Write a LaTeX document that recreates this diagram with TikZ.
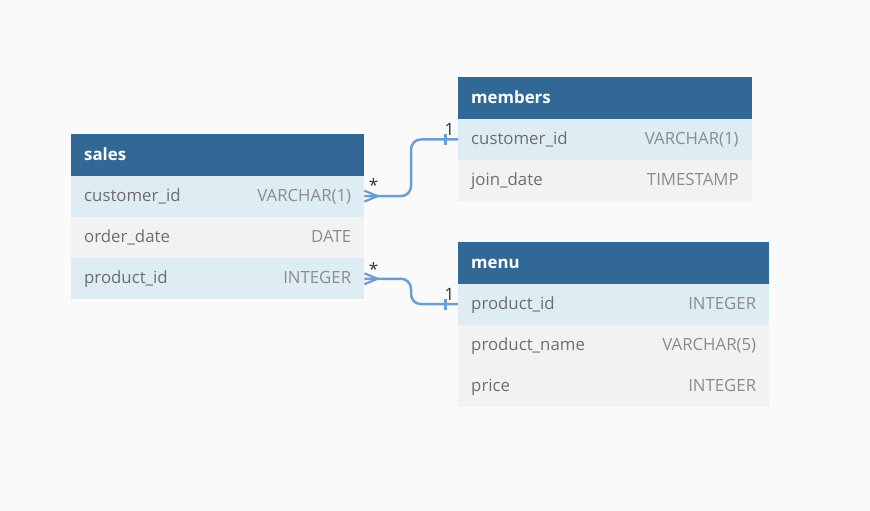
\documentclass[tikz,border=0pt]{standalone}
\usepackage{fontspec}
\setmainfont{Open Sans}
\definecolor{bgc}{HTML}{FAFAFA}
\definecolor{hdr}{HTML}{316896}
\definecolor{rowb}{HTML}{DEECF4}
\definecolor{rowg}{HTML}{F2F2F2}
\definecolor{fld}{HTML}{6E6E6E}
\definecolor{typ}{HTML}{8C8C8C}
\definecolor{lnk}{HTML}{6A9FD2}
\definecolor{lbl}{HTML}{333333}
\tikzset{
  cell/.style={draw=none, inner sep=0pt, anchor=north west, minimum height=41.3pt},
  hdrcell/.style={cell, fill=hdr},
  bluecell/.style={cell, fill=rowb},
  graycell/.style={cell, fill=rowg},
  hdrtxt/.style={inner sep=0pt, anchor=mid west, text=white, font=\fontsize{16.8}{18}\selectfont\bfseries, yshift=-2.5pt},
  fldtxt/.style={inner sep=0pt, anchor=mid west, text=fld, font=\fontsize{16.8}{18}\selectfont, yshift=-2.5pt},
  typtxt/.style={inner sep=0pt, anchor=mid east, text=typ, font=\fontsize{16.8}{18}\selectfont, yshift=-2.5pt},
  cardtxt/.style={inner sep=0pt, text=lbl, font=\fontsize{17}{18}\selectfont},
  conn/.style={draw=lnk, line width=2.5pt, rounded corners=10pt},
  tick/.style={draw=lnk, line width=2.2pt},
}
\begin{document}
\begin{tikzpicture}[x=1pt, y=-1pt]
\fill[bgc] (0,0) rectangle (870,511);
\useasboundingbox (0,0) rectangle (870,511);
% sales
\node[hdrcell, minimum width=293pt] (sh) at (71,134) {};
\node[bluecell, minimum width=293pt] (s1) at (71,175.3) {};
\node[graycell, minimum width=293pt] (s2) at (71,216.6) {};
\node[bluecell, minimum width=293pt] (s3) at (71,257.9) {};
\node[hdrtxt] (sht) at ([xshift=13pt]sh.west) {sales};
\node[fldtxt] (s1f) at ([xshift=13pt]s1.west) {customer\_id};
\node[typtxt] (s1t) at ([xshift=-13pt]s1.east) {VARCHAR(1)};
\node[fldtxt] (s2f) at ([xshift=13pt]s2.west) {order\_date};
\node[typtxt] (s2t) at ([xshift=-13pt]s2.east) {DATE};
\node[fldtxt] (s3f) at ([xshift=13pt]s3.west) {product\_id};
\node[typtxt] (s3t) at ([xshift=-13pt]s3.east) {INTEGER};
% members
\node[hdrcell, minimum width=293.5pt] (mh) at (458,77.3) {};
\node[bluecell, minimum width=293.5pt] (m1) at (458,118.6) {};
\node[graycell, minimum width=293.5pt] (m2) at (458,159.9) {};
\node[hdrtxt] (mht) at ([xshift=13pt]mh.west) {members};
\node[fldtxt] (m1f) at ([xshift=13pt]m1.west) {customer\_id};
\node[typtxt] (m1t) at ([xshift=-13pt]m1.east) {VARCHAR(1)};
\node[fldtxt] (m2f) at ([xshift=13pt]m2.west) {join\_date};
\node[typtxt] (m2t) at ([xshift=-13pt]m2.east) {TIMESTAMP};
% menu
\node[hdrcell, minimum width=311pt] (nh) at (458,242) {};
\node[bluecell, minimum width=311pt] (n1) at (458,283.3) {};
\node[graycell, minimum width=311pt] (n2) at (458,324.6) {};
\node[graycell, minimum width=311pt] (n3) at (458,365.9) {};
\node[hdrtxt] (nht) at ([xshift=13pt]nh.west) {menu};
\node[fldtxt] (n1f) at ([xshift=13pt]n1.west) {product\_id};
\node[typtxt] (n1t) at ([xshift=-13pt]n1.east) {INTEGER};
\node[fldtxt] (n2f) at ([xshift=13pt]n2.west) {product\_name};
\node[typtxt] (n2t) at ([xshift=-13pt]n2.east) {VARCHAR(5)};
\node[fldtxt] (n3f) at ([xshift=13pt]n3.west) {price};
\node[typtxt] (n3t) at ([xshift=-13pt]n3.east) {INTEGER};
% connectors
\coordinate (b1) at (411,0);
\coordinate (b2) at (411,0);
\draw[conn] (s1.east) -| (b1 |- m1.west) -- (m1.west);
\draw[conn] (s3.east) -| (b2 |- n1.west) -- (n1.west);
% crow feet
\draw[tick] ([xshift=13pt]s1.east) -- ([yshift=-5.5pt]s1.east);
\draw[tick] ([xshift=13pt]s1.east) -- ([yshift=5.5pt]s1.east);
\draw[tick] ([xshift=13pt]s3.east) -- ([yshift=-5.5pt]s3.east);
\draw[tick] ([xshift=13pt]s3.east) -- ([yshift=5.5pt]s3.east);
% one bars
\draw[tick] ([xshift=-12.5pt,yshift=-5.5pt]m1.west) -- ([xshift=-12.5pt,yshift=5.5pt]m1.west);
\draw[tick] ([xshift=-12.5pt,yshift=-5.5pt]n1.west) -- ([xshift=-12.5pt,yshift=5.5pt]n1.west);
% cardinality labels
\node[cardtxt] (c1) at (373.5,185) {*};
\node[cardtxt] (c2) at (449.5,129) {1};
\node[cardtxt] (c3) at (373.5,269) {*};
\node[cardtxt] (c4) at (449.5,294) {1};
\end{tikzpicture}
\end{document}
